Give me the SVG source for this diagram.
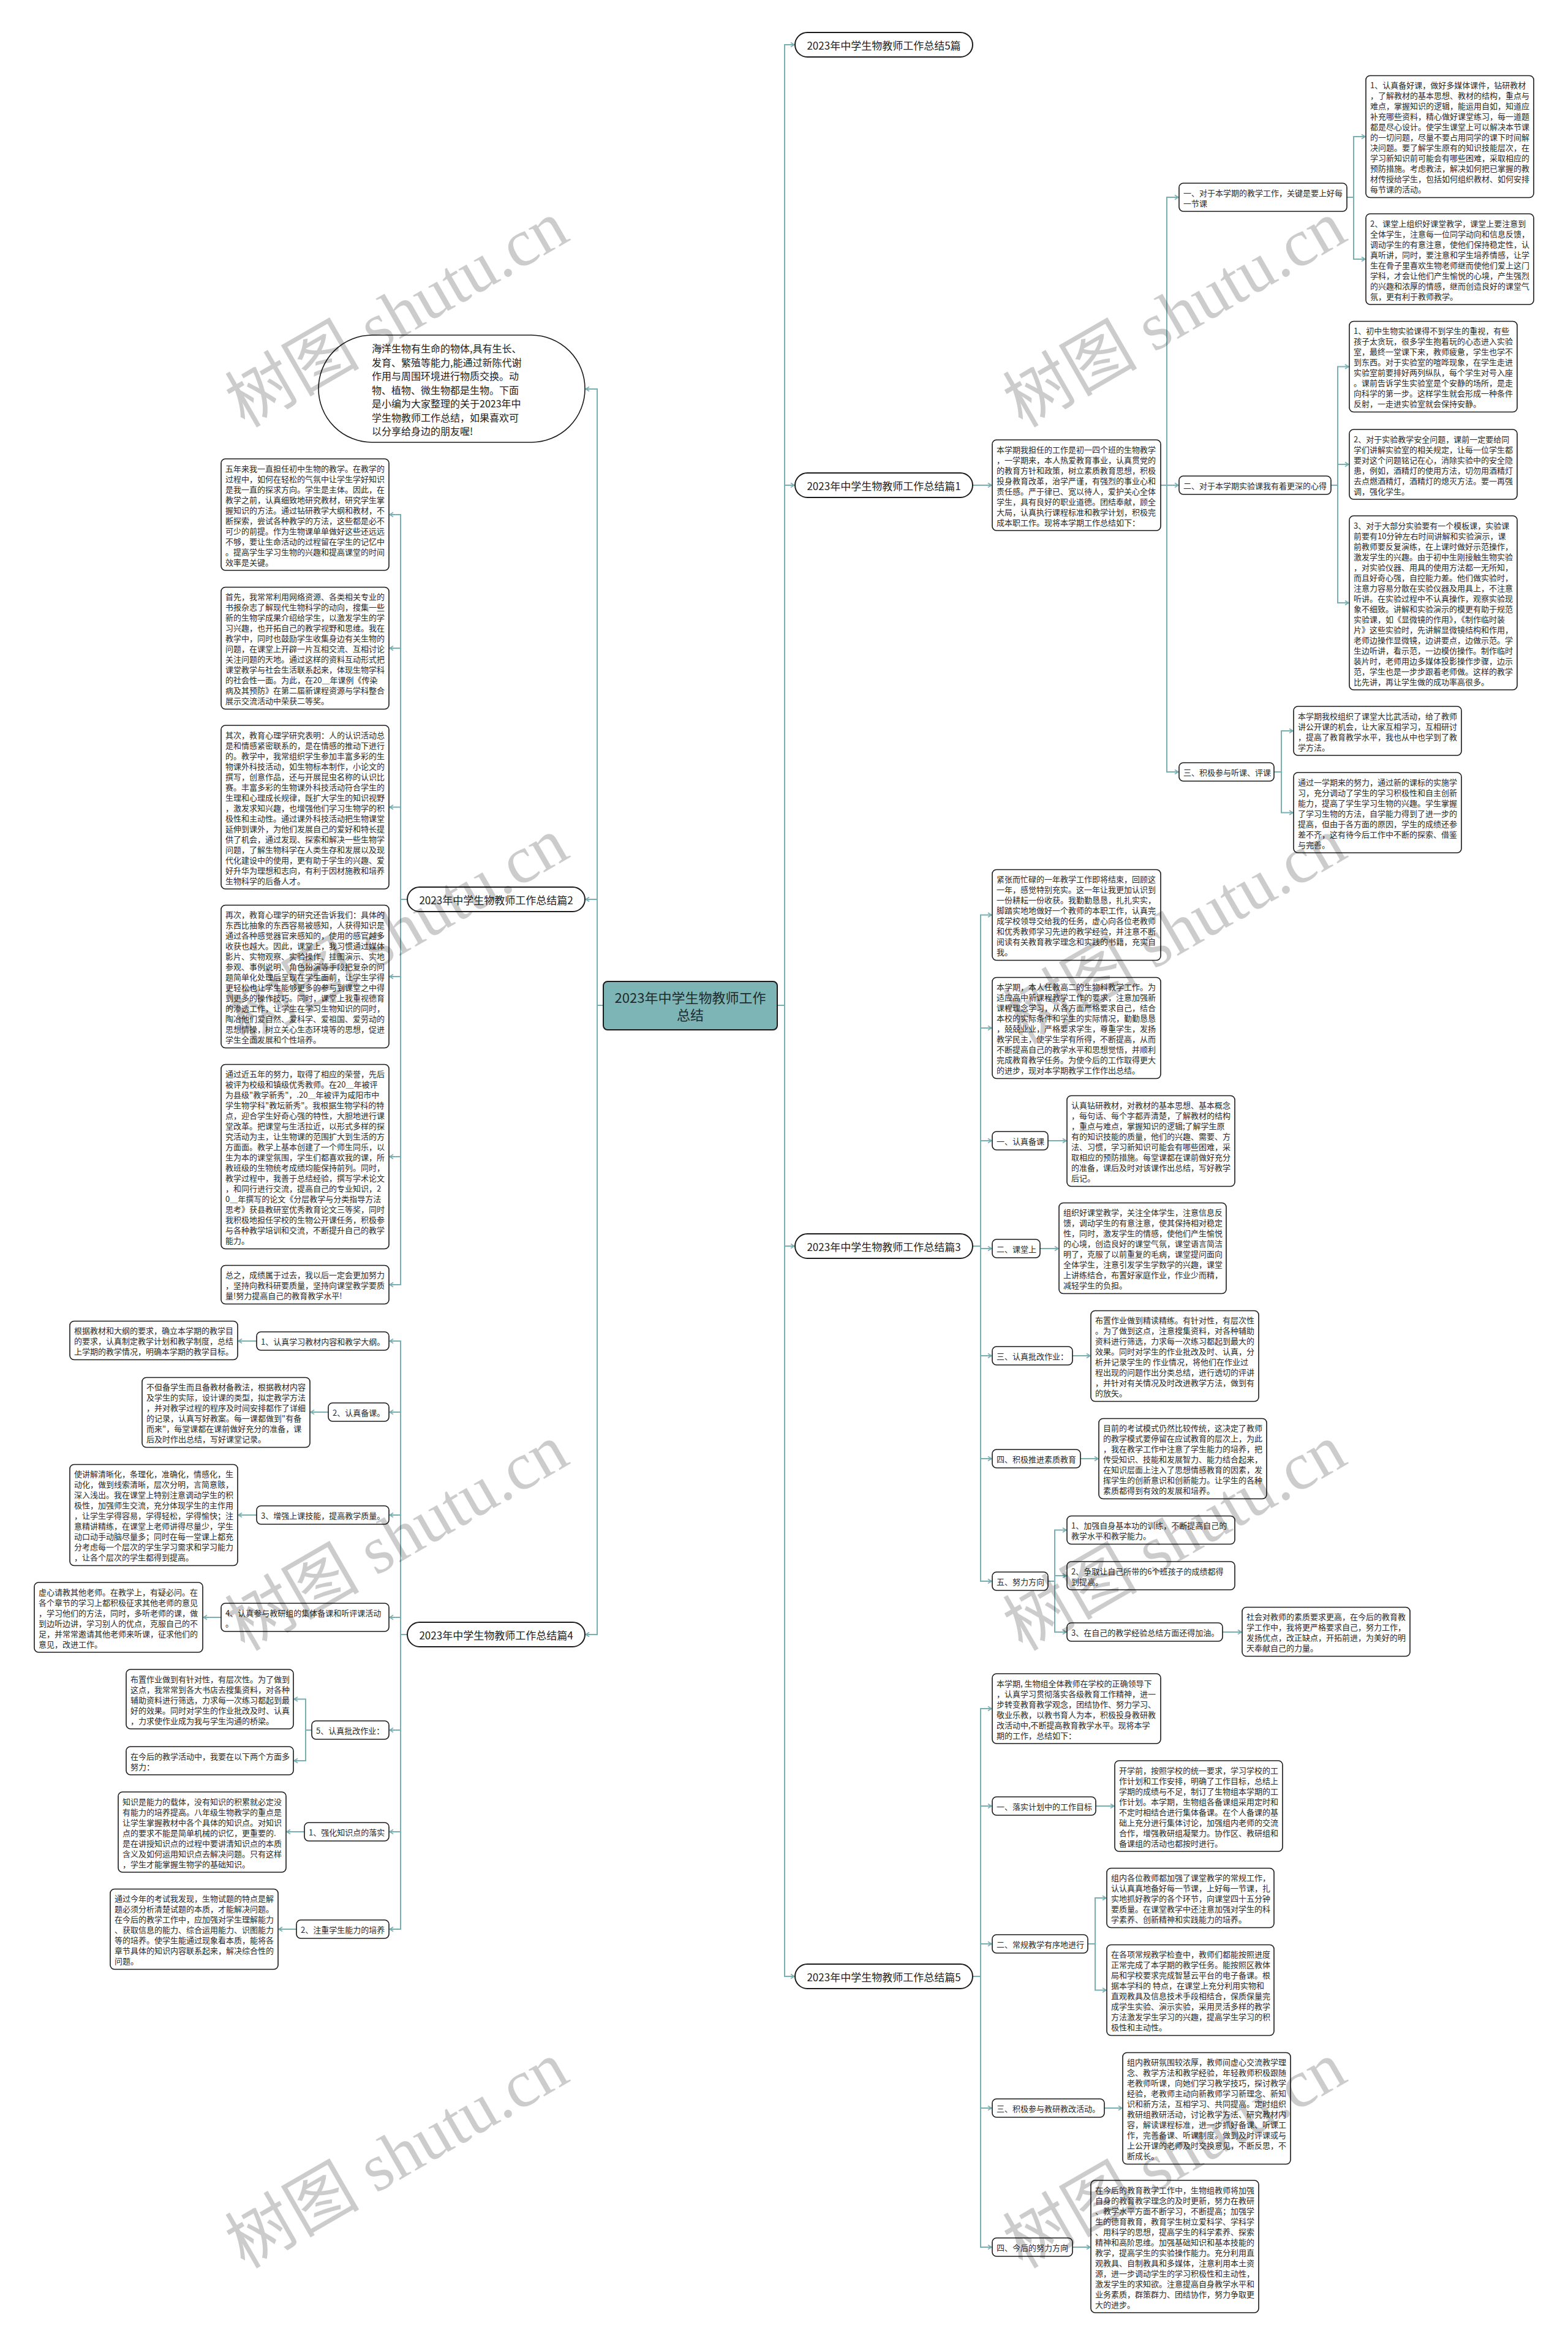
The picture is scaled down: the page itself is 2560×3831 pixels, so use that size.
<svg xmlns="http://www.w3.org/2000/svg" width="2560" height="3831" viewBox="0 0 2560 3831">
<style>
.bx{fill:#fff;stroke:#1a1a1a;stroke-width:1.6}
.pill{fill:#fff;stroke:#1a1a1a;stroke-width:2}
.ctr{fill:#7db4b5;stroke:#1a1a1a;stroke-width:2}
.t{font-family:"Noto Sans CJK SC","Noto Sans",sans-serif;font-size:13px;fill:#2a2a2a;dominant-baseline:central}
.tb{font-family:"Noto Sans CJK SC","Noto Sans",sans-serif;font-size:17px;fill:#222;dominant-baseline:central;text-anchor:middle}
.tc{font-family:"Noto Sans CJK SC","Noto Sans",sans-serif;font-size:22px;fill:#1f2b2b;dominant-baseline:central;text-anchor:middle}
.ti{font-family:"Noto Sans CJK SC","Noto Sans",sans-serif;font-size:16px;fill:#222;dominant-baseline:central}
.ln{fill:none;stroke:#78afb1;stroke-width:2}
.wm{font-family:"Liberation Serif","Noto Sans CJK SC",serif;font-size:110px;fill:#000;fill-opacity:0.2;text-anchor:middle;dominant-baseline:central}
</style>
<defs>
<marker id="ar" markerUnits="userSpaceOnUse" markerWidth="10" markerHeight="10" refX="8" refY="5" orient="auto">
<path d="M2,1.5 L8,5 L2,8.5" fill="none" stroke="#78afb1" stroke-width="1.6"/>
</marker>
</defs>
<rect width="2560" height="3831" fill="#fff"/>

<g id="connectors" class="ln" marker-end="url(#ar)">
<path d="M1269,1641 H1281 V73 H1297"/>
<path d="M1269,1641 H1281 V792 H1297"/>
<path d="M1269,1641 H1281 V2034 H1297"/>
<path d="M1269,1641 H1281 V3226 H1297"/>
<path d="M985,1641 H975 V635 H956"/>
<path d="M985,1641 H975 V1468 H956"/>
<path d="M985,1641 H975 V2668 H956"/>
<path d="M1588,792 H1619"/>
<path d="M1895,792 H1905 V322 H1924"/>
<path d="M1895,792 H1924"/>
<path d="M1895,792 H1905 V1260 H1924"/>
<path d="M2199,322 H2210 V223 H2229"/>
<path d="M2199,322 H2210 V423 H2229"/>
<path d="M2173,792 H2184 V598.5 H2202"/>
<path d="M2173,792 H2184 V758 H2202"/>
<path d="M2173,792 H2184 V984 H2202"/>
<path d="M2080,1260 H2092 V1193 H2111"/>
<path d="M2080,1260 H2092 V1326.5 H2111"/>
<path d="M1588,2034 H1601 V1493.5 H1619"/>
<path d="M1588,2034 H1601 V1678 H1619"/>
<path d="M1588,2034 H1601 V1862 H1619"/>
<path d="M1588,2034 H1601 V2038 H1619"/>
<path d="M1588,2034 H1601 V2213 H1619"/>
<path d="M1588,2034 H1601 V2381 H1619"/>
<path d="M1588,2034 H1601 V2581 H1619"/>
<path d="M1711,1862 H1741"/>
<path d="M1698,2038 H1728"/>
<path d="M1751,2213 H1780"/>
<path d="M1764,2381 H1793"/>
<path d="M1711,2581 H1722 V2497.5 H1741"/>
<path d="M1711,2581 H1722 V2572 H1741"/>
<path d="M1711,2581 H1722 V2664 H1741"/>
<path d="M1996,2664 H2027"/>
<path d="M1588,3226 H1601 V2789 H1619"/>
<path d="M1588,3226 H1601 V2948 H1619"/>
<path d="M1588,3226 H1601 V3173 H1619"/>
<path d="M1588,3226 H1601 V3441 H1619"/>
<path d="M1588,3226 H1601 V3668 H1619"/>
<path d="M1789,2948 H1819"/>
<path d="M1776,3173 H1788 V3098 H1806"/>
<path d="M1776,3173 H1788 V3248.5 H1806"/>
<path d="M1803,3441 H1832"/>
<path d="M1751,3668 H1780"/>
<path d="M665,1468 H654 V840 H636"/>
<path d="M665,1468 H654 V1058 H636"/>
<path d="M665,1468 H654 V1317.5 H636"/>
<path d="M665,1468 H654 V1594 H636"/>
<path d="M665,1468 H654 V1888 H636"/>
<path d="M665,1468 H654 V2097 H636"/>
<path d="M665,2668 H654 V2189 H636"/>
<path d="M665,2668 H654 V2305 H636"/>
<path d="M665,2668 H654 V2473 H636"/>
<path d="M665,2668 H654 V2640 H636"/>
<path d="M665,2668 H654 V2824 H636"/>
<path d="M665,2668 H654 V2990 H636"/>
<path d="M665,2668 H654 V3149 H636"/>
<path d="M419,2189 H389"/>
<path d="M536,2305 H507"/>
<path d="M419,2473 H389"/>
<path d="M361,2640 H332"/>
<path d="M509,2824 H499 V2773.5 H480"/>
<path d="M509,2824 H499 V2874 H480"/>
<path d="M497,2990 H468"/>
<path d="M484,3149 H455"/>
</g>

<g id="n-center">
<rect class="ctr" x="985" y="1602" width="284" height="79" rx="7"/>
<text class="tc"><tspan x="1127" y="1627">2023年中学生物教师工作</tspan><tspan x="1127" y="1655">总结</tspan></text>
</g>

<g id="n-intro">
<rect class="bx" x="520" y="547" width="435" height="175" rx="87.5"/>
<text class="ti"><tspan x="607" y="568">海洋生物有生命的物体,具有生长、</tspan><tspan x="607" dy="22.5">发育、繁殖等能力,能通过新陈代谢</tspan><tspan x="607" dy="22.5">作用与周围环境进行物质交换。动</tspan><tspan x="607" dy="22.5">物、植物、微生物都是生物。下面</tspan><tspan x="607" dy="22.5">是小编为大家整理的关于2023年中</tspan><tspan x="607" dy="22.5">学生物教师工作总结，如果喜欢可</tspan><tspan x="607" dy="22.5">以分享给身边的朋友喔!</tspan></text>
</g>

<g id="n-b5">
<rect class="pill" x="1298" y="53" width="290" height="40" rx="20"/>
<text class="tb" x="1443" y="73">2023年中学生物教师工作总结5篇</text>
</g>
<g id="n-b1">
<rect class="pill" x="1298" y="772" width="290" height="40" rx="20"/>
<text class="tb" x="1443" y="792">2023年中学生物教师工作总结篇1</text>
</g>
<g id="n-b3">
<rect class="pill" x="1298" y="2014" width="290" height="40" rx="20"/>
<text class="tb" x="1443" y="2034">2023年中学生物教师工作总结篇3</text>
</g>
<g id="n-b5b">
<rect class="pill" x="1298" y="3206" width="290" height="40" rx="20"/>
<text class="tb" x="1443" y="3226">2023年中学生物教师工作总结篇5</text>
</g>
<g id="n-b2">
<rect class="pill" x="665" y="1448" width="290" height="40" rx="20"/>
<text class="tb" x="810" y="1468">2023年中学生物教师工作总结篇2</text>
</g>
<g id="n-b4">
<rect class="pill" x="665" y="2648" width="290" height="40" rx="20"/>
<text class="tb" x="810" y="2668">2023年中学生物教师工作总结篇4</text>
</g>

<!-- Part 1 -->
<g id="p1-sum">
<rect class="bx" x="1620" y="718" width="275" height="148" rx="7"/>
<text class="t"><tspan x="1627" y="732.5">本学期我担任的工作是初一四个班的生物教学</tspan><tspan x="1627" dy="17">，一学期来，本人热爱教育事业，认真贯党的</tspan><tspan x="1627" dy="17">的教育方针和政策，树立素质教育思想，积极</tspan><tspan x="1627" dy="17">投身教育改革，治学严谨，有强烈的事业心和</tspan><tspan x="1627" dy="17">责任感。严于律已、宽以待人，爱护关心全体</tspan><tspan x="1627" dy="17">学生，具有良好的职业道德。团结奉献，顾全</tspan><tspan x="1627" dy="17">大局，认真执行课程标准和教学计划，积极完</tspan><tspan x="1627" dy="17">成本职工作。现将本学期工作总结如下：</tspan></text>
</g>
<g id="p1-s1">
<rect class="bx" x="1925" y="299" width="274" height="46" rx="7"/>
<text class="t"><tspan x="1932" y="313.5">一、对于本学期的教学工作，关键是要上好每</tspan><tspan x="1932" dy="17">一节课</tspan></text>
</g>
<g id="p1-s1a">
<rect class="bx" x="2230" y="123.5" width="274" height="199" rx="7"/>
<text class="t"><tspan x="2237" y="138">1、认真备好课，做好多媒体课件，钻研教材</tspan><tspan x="2237" dy="17">，了解教材的基本思想、教材的结构，重点与</tspan><tspan x="2237" dy="17">难点，掌握知识的逻辑，能运用自如，知道应</tspan><tspan x="2237" dy="17">补充哪些资料，精心做好课堂练习，每一道题</tspan><tspan x="2237" dy="17">都是尽心设计。使学生课堂上可以解决本节课</tspan><tspan x="2237" dy="17">的一切问题，尽量不要占用同学的课下时间解</tspan><tspan x="2237" dy="17">决问题。要了解学生原有的知识技能层次，在</tspan><tspan x="2237" dy="17">学习新知识前可能会有哪些困难，采取相应的</tspan><tspan x="2237" dy="17">预防措施。考虑教法，解决如何把已掌握的教</tspan><tspan x="2237" dy="17">材传授给学生，包括如何组织教材、如何安排</tspan><tspan x="2237" dy="17">每节课的活动。</tspan></text>
</g>
<g id="p1-s1b">
<rect class="bx" x="2230" y="349" width="274" height="148" rx="7"/>
<text class="t"><tspan x="2237" y="363.5">2、课堂上组织好课堂教学，课堂上要注意到</tspan><tspan x="2237" dy="17">全体学生，注意每一位同学动向和信息反馈，</tspan><tspan x="2237" dy="17">调动学生的有意注意，使他们保持稳定性，认</tspan><tspan x="2237" dy="17">真听讲，同时，要注意和学生培养情感，让学</tspan><tspan x="2237" dy="17">生在骨子里喜欢生物老师继而使他们爱上这门</tspan><tspan x="2237" dy="17">学科，才会让他们产生愉悦的心境，产生强烈</tspan><tspan x="2237" dy="17">的兴趣和浓厚的情感，继而创造良好的课堂气</tspan><tspan x="2237" dy="17">氛，更有利于教师教学。</tspan></text>
</g>
<g id="p1-s2">
<rect class="bx" x="1925" y="777" width="248" height="30" rx="7"/>
<text class="t" x="1932" y="792">二、对于本学期实验课我有着更深的心得</text>
</g>
<g id="p1-s2a">
<rect class="bx" x="2203" y="524.5" width="274" height="148" rx="7"/>
<text class="t"><tspan x="2210" y="539">1、初中生物实验课得不到学生的重视，有些</tspan><tspan x="2210" dy="17">孩子太贪玩，很多学生抱着玩的心态进入实验</tspan><tspan x="2210" dy="17">室，最终一堂课下来，教师疲惫，学生也学不</tspan><tspan x="2210" dy="17">到东西。对于实验室的喧哗现象，在学生走进</tspan><tspan x="2210" dy="17">实验室前要排好两列纵队，每个学生对号入座</tspan><tspan x="2210" dy="17">。课前告诉学生实验室是个安静的场所，是走</tspan><tspan x="2210" dy="17">向科学的第一步。这样学生就会形成一种条件</tspan><tspan x="2210" dy="17">反射，一走进实验室就会保持安静。</tspan></text>
</g>
<g id="p1-s2b">
<rect class="bx" x="2203" y="701" width="274" height="114" rx="7"/>
<text class="t"><tspan x="2210" y="715.5">2、对于实验教学安全问题，课前一定要给同</tspan><tspan x="2210" dy="17">学们讲解实验室的相关规定，让每一位学生都</tspan><tspan x="2210" dy="17">要对这个问题铭记在心，消除实验中的安全隐</tspan><tspan x="2210" dy="17">患，例如，酒精灯的使用方法，切勿用酒精灯</tspan><tspan x="2210" dy="17">去点燃酒精灯，酒精灯的熄灭方法。要一再强</tspan><tspan x="2210" dy="17">调，强化学生。</tspan></text>
</g>
<g id="p1-s2c">
<rect class="bx" x="2203" y="842" width="274" height="284" rx="7"/>
<text class="t"><tspan x="2210" y="856.5">3、对于大部分实验要有一个模板课，实验课</tspan><tspan x="2210" dy="17">前要有10分钟左右时间讲解和实验演示，课</tspan><tspan x="2210" dy="17">前教师要反复演练，在上课时做好示范操作，</tspan><tspan x="2210" dy="17">激发学生的兴趣。由于初中生刚接触生物实验</tspan><tspan x="2210" dy="17">，对实验仪器、用具的使用方法都一无所知，</tspan><tspan x="2210" dy="17">而且好奇心强，自控能力差。他们做实验时，</tspan><tspan x="2210" dy="17">注意力容易分散在实验仪器及用具上，不注意</tspan><tspan x="2210" dy="17">听讲。在实验过程中不认真操作，观察实验现</tspan><tspan x="2210" dy="17">象不细致。讲解和实验演示的模更有助于规范</tspan><tspan x="2210" dy="17">实验课，如《显微镜的作用》，《制作临时装</tspan><tspan x="2210" dy="17">片》这些实验时，先讲解显微镜结构和作用，</tspan><tspan x="2210" dy="17">老师边操作显微镜，边讲要点，边做示范。学</tspan><tspan x="2210" dy="17">生边听讲，看示范，一边模仿操作。制作临时</tspan><tspan x="2210" dy="17">装片时，老师用边多媒体投影操作步骤，边示</tspan><tspan x="2210" dy="17">范，学生也是一步步跟着老师做。这样的教学</tspan><tspan x="2210" dy="17">比先讲，再让学生做的成功率高很多。</tspan></text>
</g>
<g id="p1-s3">
<rect class="bx" x="1925" y="1245" width="155" height="30" rx="7"/>
<text class="t" x="1932" y="1260">三、积极参与听课、评课</text>
</g>
<g id="p1-s3a">
<rect class="bx" x="2112" y="1153" width="274" height="80" rx="7"/>
<text class="t"><tspan x="2119" y="1167.5">本学期我校组织了课堂大比武活动，给了教师</tspan><tspan x="2119" dy="17">讲公开课的机会，让大家互相学习，互相研讨</tspan><tspan x="2119" dy="17">，提高了教育教学水平，我也从中也学到了教</tspan><tspan x="2119" dy="17">学方法。</tspan></text>
</g>
<g id="p1-s3b">
<rect class="bx" x="2112" y="1261" width="274" height="131" rx="7"/>
<text class="t"><tspan x="2119" y="1275.5">通过一学期来的努力，通过新的课标的实施学</tspan><tspan x="2119" dy="17">习，充分调动了学生的学习积极性和自主创新</tspan><tspan x="2119" dy="17">能力，提高了学生学习生物的兴趣。学生掌握</tspan><tspan x="2119" dy="17">了学习生物的方法，自学能力得到了进一步的</tspan><tspan x="2119" dy="17">提高，但由于各方面的原因，学生的成绩还参</tspan><tspan x="2119" dy="17">差不齐，这有待今后工作中不断的探索、借鉴</tspan><tspan x="2119" dy="17">与完善。</tspan></text>
</g>

<!-- Part 3 -->
<g id="p3-a">
<rect class="bx" x="1620" y="1419.5" width="275" height="148" rx="7"/>
<text class="t"><tspan x="1627" y="1434">紧张而忙碌的一年教学工作即将结束，回顾这</tspan><tspan x="1627" dy="17">一年，感觉特别充实。这一年让我更加认识到</tspan><tspan x="1627" dy="17">一份耕耘一份收获。我勤勤恳恳，扎扎实实，</tspan><tspan x="1627" dy="17">脚踏实地地做好一个教师的本职工作，认真完</tspan><tspan x="1627" dy="17">成学校领导交给我的任务，虚心向各位老教师</tspan><tspan x="1627" dy="17">和优秀教师学习先进的教学经验，并注意不断</tspan><tspan x="1627" dy="17">阅读有关教育教学理念和实践的书籍，充实自</tspan><tspan x="1627" dy="17">我。</tspan></text>
</g>
<g id="p3-b">
<rect class="bx" x="1620" y="1595.5" width="275" height="165" rx="7"/>
<text class="t"><tspan x="1627" y="1610">本学期，本人任教高二的生物科教学工作。为</tspan><tspan x="1627" dy="17">适应高中新课程教学工作的要求，注意加强新</tspan><tspan x="1627" dy="17">课程理念学习，从各方面严格要求自己，结合</tspan><tspan x="1627" dy="17">本校的实际条件和学生的实际情况，勤勤恳恳</tspan><tspan x="1627" dy="17">，兢兢业业，严格要求学生，尊重学生，发扬</tspan><tspan x="1627" dy="17">教学民主，使学生学有所得，不断提高，从而</tspan><tspan x="1627" dy="17">不断提高自己的教学水平和思想觉悟，并顺利</tspan><tspan x="1627" dy="17">完成教育教学任务。为使今后的工作取得更大</tspan><tspan x="1627" dy="17">的进步，现对本学期教学工作作出总结。</tspan></text>
</g>
<g id="p3-1">
<rect class="bx" x="1620" y="1847" width="91" height="30" rx="7"/>
<text class="t" x="1627" y="1862">一、认真备课</text>
</g>
<g id="p3-1a">
<rect class="bx" x="1742" y="1788.5" width="274" height="148" rx="7"/>
<text class="t"><tspan x="1749" y="1803">认真钻研教材，对教材的基本思想、基本概念</tspan><tspan x="1749" dy="17">，每句话、每个字都弄清楚，了解教材的结构</tspan><tspan x="1749" dy="17">，重点与难点，掌握知识的逻辑;了解学生原</tspan><tspan x="1749" dy="17">有的知识技能的质量，他们的兴趣、需要、方</tspan><tspan x="1749" dy="17">法、习惯，学习新知识可能会有哪些困难，采</tspan><tspan x="1749" dy="17">取相应的预防措施。每堂课都在课前做好充分</tspan><tspan x="1749" dy="17">的准备，课后及时对该课作出总结，写好教学</tspan><tspan x="1749" dy="17">后记。</tspan></text>
</g>
<g id="p3-2">
<rect class="bx" x="1620" y="2023" width="78" height="30" rx="7"/>
<text class="t" x="1627" y="2038">二、课堂上</text>
</g>
<g id="p3-2a">
<rect class="bx" x="1729" y="1963.5" width="273" height="148" rx="7"/>
<text class="t"><tspan x="1736" y="1978">组织好课堂教学，关注全体学生，注意信息反</tspan><tspan x="1736" dy="17">馈，调动学生的有意注意，使其保持相对稳定</tspan><tspan x="1736" dy="17">性，同时，激发学生的情感，使他们产生愉悦</tspan><tspan x="1736" dy="17">的心境，创造良好的课堂气氛，课堂语言简洁</tspan><tspan x="1736" dy="17">明了，克服了以前重复的毛病，课堂提问面向</tspan><tspan x="1736" dy="17">全体学生，注意引发学生学数学的兴趣，课堂</tspan><tspan x="1736" dy="17">上讲练结合，布置好家庭作业，作业少而精，</tspan><tspan x="1736" dy="17">减轻学生的负担。</tspan></text>
</g>
<g id="p3-3">
<rect class="bx" x="1620" y="2198" width="131" height="30" rx="7"/>
<text class="t" x="1627" y="2213">三、认真批改作业：</text>
</g>
<g id="p3-3a">
<rect class="bx" x="1781" y="2139.5" width="274" height="148" rx="7"/>
<text class="t"><tspan x="1788" y="2154">布置作业做到精读精练。有针对性，有层次性</tspan><tspan x="1788" dy="17">。为了做到这点，注意搜集资料，对各种辅助</tspan><tspan x="1788" dy="17">资料进行筛选，力求每一次练习都起到最大的</tspan><tspan x="1788" dy="17">效果。同时对学生的作业批改及时、认真，分</tspan><tspan x="1788" dy="17">析并记录学生的 作业情况，将他们在作业过</tspan><tspan x="1788" dy="17">程出现的问题作出分类总结，进行透切的评讲</tspan><tspan x="1788" dy="17">，并针对有关情况及时改进教学方法，做到有</tspan><tspan x="1788" dy="17">的放矢。</tspan></text>
</g>
<g id="p3-4">
<rect class="bx" x="1620" y="2366" width="144" height="30" rx="7"/>
<text class="t" x="1627" y="2381">四、积极推进素质教育</text>
</g>
<g id="p3-4a">
<rect class="bx" x="1794" y="2315.5" width="274" height="131" rx="7"/>
<text class="t"><tspan x="1801" y="2330">目前的考试模式仍然比较传统，这决定了教师</tspan><tspan x="1801" dy="17">的教学模式要停留在应试教育的层次上，为此</tspan><tspan x="1801" dy="17">，我在教学工作中注意了学生能力的培养，把</tspan><tspan x="1801" dy="17">传受知识、技能和发展智力、能力结合起来，</tspan><tspan x="1801" dy="17">在知识层面上注入了思想情感教育的因素，发</tspan><tspan x="1801" dy="17">挥学生的创新意识和创新能力。让学生的各种</tspan><tspan x="1801" dy="17">素质都得到有效的发展和培养。</tspan></text>
</g>
<g id="p3-5">
<rect class="bx" x="1620" y="2566" width="91" height="30" rx="7"/>
<text class="t" x="1627" y="2581">五、努力方向</text>
</g>
<g id="p3-5a">
<rect class="bx" x="1742" y="2474.5" width="274" height="46" rx="7"/>
<text class="t"><tspan x="1749" y="2489">1、加强自身基本功的训练，不断提高自己的</tspan><tspan x="1749" dy="17">教学水平和教学能力。</tspan></text>
</g>
<g id="p3-5b">
<rect class="bx" x="1742" y="2549" width="274" height="46" rx="7"/>
<text class="t"><tspan x="1749" y="2563.5">2、争取让自己所带的6个班孩子的成绩都得</tspan><tspan x="1749" dy="17">到提高。</tspan></text>
</g>
<g id="p3-5c">
<rect class="bx" x="1742" y="2649" width="254" height="30" rx="7"/>
<text class="t" x="1749" y="2664">3、在自己的教学经验总结方面还得加油。</text>
</g>
<g id="p3-5c1">
<rect class="bx" x="2028" y="2623.5" width="274" height="80" rx="7"/>
<text class="t"><tspan x="2035" y="2638">社会对教师的素质要求更高，在今后的教育教</tspan><tspan x="2035" dy="17">学工作中，我将更严格要求自己，努力工作，</tspan><tspan x="2035" dy="17">发扬优点，改正缺点，开拓前进，为美好的明</tspan><tspan x="2035" dy="17">天奉献自己的力量。</tspan></text>
</g>

<!-- Part 5 -->
<g id="p5-a">
<rect class="bx" x="1620" y="2732" width="275" height="114" rx="7"/>
<text class="t"><tspan x="1627" y="2746.5">本学期, 生物组全体教师在学校的正确领导下</tspan><tspan x="1627" dy="17">，认真学习贯彻落实各级教育工作精神，进一</tspan><tspan x="1627" dy="17">步转变教育教学观念，团结协作、努力学习、</tspan><tspan x="1627" dy="17">敬业乐教，以教书育人为本，积极投身教研教</tspan><tspan x="1627" dy="17">改活动中,不断提高教育教学水平。现将本学</tspan><tspan x="1627" dy="17">期的工作，总结如下：</tspan></text>
</g>
<g id="p5-1">
<rect class="bx" x="1620" y="2933" width="169" height="30" rx="7"/>
<text class="t" x="1627" y="2948">一、落实计划中的工作目标</text>
</g>
<g id="p5-1a">
<rect class="bx" x="1820" y="2874" width="274" height="148" rx="7"/>
<text class="t"><tspan x="1827" y="2888.5">开学前，按照学校的统一要求，学习学校的工</tspan><tspan x="1827" dy="17">作计划和工作安排，明确了工作目标，总结上</tspan><tspan x="1827" dy="17">学期的成绩与不足，制订了生物组本学期的工</tspan><tspan x="1827" dy="17">作计划。本学期，生物组各备课组采用定时和</tspan><tspan x="1827" dy="17">不定时相结合进行集体备课。在个人备课的基</tspan><tspan x="1827" dy="17">础上充分进行集体讨论，加强组内老师的交流</tspan><tspan x="1827" dy="17">合作，增强教研组凝聚力。协作区、教研组和</tspan><tspan x="1827" dy="17">备课组的活动也都按时进行。</tspan></text>
</g>
<g id="p5-2">
<rect class="bx" x="1620" y="3158" width="156" height="30" rx="7"/>
<text class="t" x="1627" y="3173">二、常规教学有序地进行</text>
</g>
<g id="p5-2a">
<rect class="bx" x="1807" y="3049.5" width="273" height="97" rx="7"/>
<text class="t"><tspan x="1814" y="3064">组内各位教师都加强了课堂教学的常规工作，</tspan><tspan x="1814" dy="17">认认真真地备好每一节课，上好每一节课，扎</tspan><tspan x="1814" dy="17">实地抓好教学的各个环节，向课堂四十五分钟</tspan><tspan x="1814" dy="17">要质量。在课堂教学中还注意加强对学生的科</tspan><tspan x="1814" dy="17">学素养、创新精神和实践能力的培养。</tspan></text>
</g>
<g id="p5-2b">
<rect class="bx" x="1807" y="3174.5" width="273" height="148" rx="7"/>
<text class="t"><tspan x="1814" y="3189">在各项常规教学检查中，教师们都能按照进度</tspan><tspan x="1814" dy="17">正常完成了本学期的教学任务。能按照区教体</tspan><tspan x="1814" dy="17">局和学校要求完成智慧云平台的电子备课。根</tspan><tspan x="1814" dy="17">据本学科的 特点，在课堂上充分利用实物和</tspan><tspan x="1814" dy="17">直观教具及信息技术手段相结合，保质保量完</tspan><tspan x="1814" dy="17">成学生实验、演示实验，采用灵活多样的教学</tspan><tspan x="1814" dy="17">方法激发学生学习的兴趣，提高学生学习的积</tspan><tspan x="1814" dy="17">极性和主动性。</tspan></text>
</g>
<g id="p5-3">
<rect class="bx" x="1620" y="3426" width="183" height="30" rx="7"/>
<text class="t" x="1627" y="3441">三、积极参与教研教改活动。</text>
</g>
<g id="p5-3a">
<rect class="bx" x="1833" y="3350.5" width="274" height="182" rx="7"/>
<text class="t"><tspan x="1840" y="3365">组内教研氛围较浓厚，教师间虚心交流教学理</tspan><tspan x="1840" dy="17">念、教学方法和教学经验，年轻教师积极跟随</tspan><tspan x="1840" dy="17">老教师听课，向她们学习教学技巧，探讨教学</tspan><tspan x="1840" dy="17">经验，老教师主动向新教师学习新理念、新知</tspan><tspan x="1840" dy="17">识和新方法，互相学习、共同提高。定时组织</tspan><tspan x="1840" dy="17">教研组教研活动，讨论教学方法、研究教材内</tspan><tspan x="1840" dy="17">容，解读课程标准，进一步抓好备课、听课工</tspan><tspan x="1840" dy="17">作，完善备课、听课制度。做到及时评课或与</tspan><tspan x="1840" dy="17">上公开课的老师及时交换意见，不断反思，不</tspan><tspan x="1840" dy="17">断成长。</tspan></text>
</g>
<g id="p5-4">
<rect class="bx" x="1620" y="3653" width="131" height="30" rx="7"/>
<text class="t" x="1627" y="3668">四、今后的努力方向</text>
</g>
<g id="p5-4a">
<rect class="bx" x="1781" y="3559" width="274" height="216" rx="7"/>
<text class="t"><tspan x="1788" y="3573.5">在今后的教育教学工作中，生物组教师将加强</tspan><tspan x="1788" dy="17">自身的教育教学理念的及时更新，努力在教研</tspan><tspan x="1788" dy="17">、教学水平方面不断学习，不断提高；加强学</tspan><tspan x="1788" dy="17">生的德育教育，教育学生树立爱科学、学科学</tspan><tspan x="1788" dy="17">、用科学的思想，提高学生的科学素养、探索</tspan><tspan x="1788" dy="17">精神和高阶思维。加强基础知识和基本技能的</tspan><tspan x="1788" dy="17">教学，提高学生的实验操作能力。充分利用直</tspan><tspan x="1788" dy="17">观教具、自制教具和多媒体，注意利用本土资</tspan><tspan x="1788" dy="17">源，进一步调动学生的学习积极性和主动性，</tspan><tspan x="1788" dy="17">激发学生的求知欲。注意提高自身教学水平和</tspan><tspan x="1788" dy="17">业务素质，群策群力、团结协作，努力争取更</tspan><tspan x="1788" dy="17">大的进步。</tspan></text>
</g>

<!-- Part 2 -->
<g id="p2-1">
<rect class="bx" x="361" y="749" width="274" height="182" rx="7"/>
<text class="t"><tspan x="368" y="763.5">五年来我一直担任初中生物的教学。在教学的</tspan><tspan x="368" dy="17">过程中，如何在轻松的气氛中让学生学好知识</tspan><tspan x="368" dy="17">是我一直的探求方向。学生是主体。因此，在</tspan><tspan x="368" dy="17">教学之前，认真细致地研究教材，研究学生掌</tspan><tspan x="368" dy="17">握知识的方法。通过钻研教学大纲和教材，不</tspan><tspan x="368" dy="17">断探索，尝试各种教学的方法，这些都是必不</tspan><tspan x="368" dy="17">可少的前提。作为生物课单单做好这些还远远</tspan><tspan x="368" dy="17">不够，要让生命活动的过程留在学生的记忆中</tspan><tspan x="368" dy="17">。提高学生学习生物的兴趣和提高课堂的时间</tspan><tspan x="368" dy="17">效率是关键。</tspan></text>
</g>
<g id="p2-2">
<rect class="bx" x="361" y="958.5" width="274" height="199" rx="7"/>
<text class="t"><tspan x="368" y="973">首先，我常常利用网络资源、各类相关专业的</tspan><tspan x="368" dy="17">书报杂志了解现代生物科学的动向，搜集一些</tspan><tspan x="368" dy="17">新的生物学成果介绍给学生，以激发学生的学</tspan><tspan x="368" dy="17">习兴趣，也开拓自己的教学视野和思维。我在</tspan><tspan x="368" dy="17">教学中，同时也鼓励学生收集身边有关生物的</tspan><tspan x="368" dy="17">问题，在课堂上开辟一片互相交流、互相讨论</tspan><tspan x="368" dy="17">关注问题的天地。通过这样的资料互动形式把</tspan><tspan x="368" dy="17">课堂教学与社会生活联系起来，体现生物学科</tspan><tspan x="368" dy="17">的社会性一面。为此，在20＿年课例《传染</tspan><tspan x="368" dy="17">病及其预防》在第二届新课程资源与学科整合</tspan><tspan x="368" dy="17">展示交流活动中荣获二等奖。</tspan></text>
</g>
<g id="p2-3">
<rect class="bx" x="361" y="1184" width="274" height="267" rx="7"/>
<text class="t"><tspan x="368" y="1198.5">其次，教育心理学研究表明：人的认识活动总</tspan><tspan x="368" dy="17">是和情感紧密联系的，是在情感的推动下进行</tspan><tspan x="368" dy="17">的。教学中，我常组织学生参加丰富多彩的生</tspan><tspan x="368" dy="17">物课外科技活动，如生物标本制作，小论文的</tspan><tspan x="368" dy="17">撰写，创意作品，还与开展昆虫名称的认识比</tspan><tspan x="368" dy="17">赛。丰富多彩的生物课外科技活动符合学生的</tspan><tspan x="368" dy="17">生理和心理成长规律，既扩大学生的知识视野</tspan><tspan x="368" dy="17">，激发求知兴趣，也增强他们学习生物学的积</tspan><tspan x="368" dy="17">极性和主动性。通过课外科技活动把生物课堂</tspan><tspan x="368" dy="17">延伸到课外，为他们发展自己的爱好和特长提</tspan><tspan x="368" dy="17">供了机会，通过发现、探索和解决一些生物学</tspan><tspan x="368" dy="17">问题，了解生物科学在人类生存和发展以及现</tspan><tspan x="368" dy="17">代化建设中的使用，更有助于学生的兴趣、爱</tspan><tspan x="368" dy="17">好升华为理想和志向，有利于因材施教和培养</tspan><tspan x="368" dy="17">生物科学的后备人才。</tspan></text>
</g>
<g id="p2-4">
<rect class="bx" x="361" y="1477.5" width="274" height="233" rx="7"/>
<text class="t"><tspan x="368" y="1492">再次，教育心理学的研究还告诉我们：具体的</tspan><tspan x="368" dy="17">东西比抽象的东西容易被感知，人获得知识是</tspan><tspan x="368" dy="17">通过各种感觉器官来感知的，使用的感官越多</tspan><tspan x="368" dy="17">收获也越大。因此，课堂上，我习惯通过媒体</tspan><tspan x="368" dy="17">影片、实物观察、实验操作、挂图演示、实地</tspan><tspan x="368" dy="17">参观、事例说明、角色扮演等手段把复杂的问</tspan><tspan x="368" dy="17">题简单化处理后呈现在学生面前，让学生学得</tspan><tspan x="368" dy="17">更轻松也让学生能够更多的参与到课堂之中得</tspan><tspan x="368" dy="17">到更多的操作技巧。同时，课堂上我重视德育</tspan><tspan x="368" dy="17">的渗透工作，让学生在学习生物知识的同时，</tspan><tspan x="368" dy="17">陶冶他们爱自然、爱科学、爱祖国、爱劳动的</tspan><tspan x="368" dy="17">思想情操，树立关心生态环境等的思想，促进</tspan><tspan x="368" dy="17">学生全面发展和个性培养。</tspan></text>
</g>
<g id="p2-5">
<rect class="bx" x="361" y="1737.5" width="274" height="301" rx="7"/>
<text class="t"><tspan x="368" y="1752">通过近五年的努力，取得了相应的荣誉，先后</tspan><tspan x="368" dy="17">被评为校级和镇级优秀教师。在20＿年被评</tspan><tspan x="368" dy="17">为县级"教学新秀"，.20＿年被评为咸阳市中</tspan><tspan x="368" dy="17">学生物学科"教坛新秀"。我根据生物学科的特</tspan><tspan x="368" dy="17">点，迎合学生好奇心强的特性，大胆地进行课</tspan><tspan x="368" dy="17">堂改革。把课堂与生活拉近，以形式多样的探</tspan><tspan x="368" dy="17">究活动为主，让生物课的范围扩大到生活的方</tspan><tspan x="368" dy="17">方面面。教学上基本创建了一个师生同乐，以</tspan><tspan x="368" dy="17">生为本的课堂氛围，学生们都喜欢我的课，所</tspan><tspan x="368" dy="17">教班级的生物统考成绩均能保持前列。同时，</tspan><tspan x="368" dy="17">教学过程中，我善于总结经验，撰写学术论文</tspan><tspan x="368" dy="17">，和同行进行交流，提高自己的专业知识，2</tspan><tspan x="368" dy="17">0＿年撰写的论文《分层教学与分类指导方法</tspan><tspan x="368" dy="17">思考》获县教研室优秀教育论文三等奖，同时</tspan><tspan x="368" dy="17">我积极地担任学校的生物公开课任务，积极参</tspan><tspan x="368" dy="17">与各种教学培训和交流，不断提升自己的教学</tspan><tspan x="368" dy="17">能力。</tspan></text>
</g>
<g id="p2-6">
<rect class="bx" x="361" y="2065.5" width="274" height="63" rx="7"/>
<text class="t"><tspan x="368" y="2080">总之，成绩属于过去，我以后一定会更加努力</tspan><tspan x="368" dy="17">，坚持向教科研要质量，坚持向课堂教学要质</tspan><tspan x="368" dy="17">量!努力提高自己的教育教学水平!</tspan></text>
</g>

<!-- Part 4 -->
<g id="p4-1">
<rect class="bx" x="419" y="2174" width="216" height="30" rx="7"/>
<text class="t" x="426" y="2189">1、认真学习教材内容和教学大纲。</text>
</g>
<g id="p4-1a">
<rect class="bx" x="114" y="2156.5" width="274" height="63" rx="7"/>
<text class="t"><tspan x="121" y="2171">根据教材和大纲的要求，确立本学期的教学目</tspan><tspan x="121" dy="17">的要求，认真制定教学计划和教学制度，总结</tspan><tspan x="121" dy="17">上学期的教学情况，明确本学期的教学目标。</tspan></text>
</g>
<g id="p4-2">
<rect class="bx" x="536" y="2290" width="99" height="30" rx="7"/>
<text class="t" x="543" y="2305">2、认真备课。</text>
</g>
<g id="p4-2a">
<rect class="bx" x="232" y="2248.5" width="274" height="114" rx="7"/>
<text class="t"><tspan x="239" y="2263">不但备学生而且备教材备教法，根据教材内容</tspan><tspan x="239" dy="17">及学生的实际，设计课的类型，拟定教学方法</tspan><tspan x="239" dy="17">，并对教学过程的程序及时间安排都作了详细</tspan><tspan x="239" dy="17">的记录，认真写好教案。每一课都做到"有备</tspan><tspan x="239" dy="17">而来"，每堂课都在课前做好充分的准备，课</tspan><tspan x="239" dy="17">后及时作出总结，写好课堂记录。</tspan></text>
</g>
<g id="p4-3">
<rect class="bx" x="419" y="2458" width="216" height="30" rx="7"/>
<text class="t" x="426" y="2473">3、增强上课技能，提高教学质量。</text>
</g>
<g id="p4-3a">
<rect class="bx" x="114" y="2390.5" width="274" height="165" rx="7"/>
<text class="t"><tspan x="121" y="2405">使讲解清晰化，条理化，准确化，情感化，生</tspan><tspan x="121" dy="17">动化，做到线索清晰，层次分明，言简意赅，</tspan><tspan x="121" dy="17">深入浅出。我在课堂上特别注意调动学生的积</tspan><tspan x="121" dy="17">极性，加强师生交流，充分体现学生的主作用</tspan><tspan x="121" dy="17">，让学生学得容易，学得轻松，学得愉快；注</tspan><tspan x="121" dy="17">意精讲精练，在课堂上老师讲得尽量少，学生</tspan><tspan x="121" dy="17">动口动手动脑尽量多；同时在每一堂课上都充</tspan><tspan x="121" dy="17">分考虑每一个层次的学生学习需求和学习能力</tspan><tspan x="121" dy="17">，让各个层次的学生都得到提高。</tspan></text>
</g>
<g id="p4-4">
<rect class="bx" x="361" y="2617" width="274" height="46" rx="7"/>
<text class="t"><tspan x="368" y="2631.5">4、认真参与教研组的集体备课和听评课活动</tspan><tspan x="368" dy="17">。</tspan></text>
</g>
<g id="p4-4a">
<rect class="bx" x="56" y="2583" width="275" height="114" rx="7"/>
<text class="t"><tspan x="63" y="2597.5">虚心请教其他老师。在教学上，有疑必问。在</tspan><tspan x="63" dy="17">各个章节的学习上都积极征求其他老师的意见</tspan><tspan x="63" dy="17">，学习他们的方法，同时，多听老师的课，做</tspan><tspan x="63" dy="17">到边听边讲，学习别人的优点，克服自己的不</tspan><tspan x="63" dy="17">足，并常常邀请其他老师来听课，征求他们的</tspan><tspan x="63" dy="17">意见，改进工作。</tspan></text>
</g>
<g id="p4-5">
<rect class="bx" x="509" y="2809" width="126" height="30" rx="7"/>
<text class="t" x="516" y="2824">5、认真批改作业：</text>
</g>
<g id="p4-5a">
<rect class="bx" x="206" y="2725" width="273" height="97" rx="7"/>
<text class="t"><tspan x="213" y="2739.5">布置作业做到有针对性，有层次性。为了做到</tspan><tspan x="213" dy="17">这点，我常常到各大书店去搜集资料，对各种</tspan><tspan x="213" dy="17">辅助资料进行筛选，力求每一次练习都起到最</tspan><tspan x="213" dy="17">好的效果。同时对学生的作业批改及时、认真</tspan><tspan x="213" dy="17">，力求使作业成为我与学生沟通的桥梁。</tspan></text>
</g>
<g id="p4-5b">
<rect class="bx" x="206" y="2851" width="273" height="46" rx="7"/>
<text class="t"><tspan x="213" y="2865.5">在今后的教学活动中，我要在以下两个方面多</tspan><tspan x="213" dy="17">努力：</tspan></text>
</g>
<g id="p4-6">
<rect class="bx" x="497" y="2975" width="138" height="30" rx="7"/>
<text class="t" x="504" y="2990">1、强化知识点的落实</text>
</g>
<g id="p4-6a">
<rect class="bx" x="193" y="2925" width="274" height="131" rx="7"/>
<text class="t"><tspan x="200" y="2939.5">知识是能力的载体，没有知识的积累就必定没</tspan><tspan x="200" dy="17">有能力的培养提高。八年级生物教学的重点是</tspan><tspan x="200" dy="17">让学生掌握教材中各个具体的知识点。对知识</tspan><tspan x="200" dy="17">点的要求不能是简单机械的识忆，更重要的.</tspan><tspan x="200" dy="17">是在讲授知识点的过程中要讲清知识点的本质</tspan><tspan x="200" dy="17">含义及如何运用知识点去解决问题。只有这样</tspan><tspan x="200" dy="17">，学生才能掌握生物学的基础知识。</tspan></text>
</g>
<g id="p4-7">
<rect class="bx" x="484" y="3134" width="151" height="30" rx="7"/>
<text class="t" x="491" y="3149">2、注重学生能力的培养</text>
</g>
<g id="p4-7a">
<rect class="bx" x="180" y="3083.5" width="274" height="131" rx="7"/>
<text class="t"><tspan x="187" y="3098">通过今年的考试我发现，生物试题的特点是解</tspan><tspan x="187" dy="17">题必须分析清楚试题的本质，才能解决问题。</tspan><tspan x="187" dy="17">在今后的教学工作中，应加强对学生理解能力</tspan><tspan x="187" dy="17">、获取信息的能力、综合运用能力、识图能力</tspan><tspan x="187" dy="17">等的培养。使学生能通过现象看本质，能将各</tspan><tspan x="187" dy="17">章节具体的知识内容联系起来，解决综合性的</tspan><tspan x="187" dy="17">问题。</tspan></text>
</g>

<g id="watermarks">
<text class="wm" transform="translate(648,513) rotate(-30)">树图 shutu.cn</text>
<text class="wm" transform="translate(1918,513) rotate(-30)">树图 shutu.cn</text>
<text class="wm" transform="translate(648,1520) rotate(-30)">树图 shutu.cn</text>
<text class="wm" transform="translate(1918,1520) rotate(-30)">树图 shutu.cn</text>
<text class="wm" transform="translate(648,2510) rotate(-30)">树图 shutu.cn</text>
<text class="wm" transform="translate(1918,2510) rotate(-30)">树图 shutu.cn</text>
<text class="wm" transform="translate(648,3518) rotate(-30)">树图 shutu.cn</text>
<text class="wm" transform="translate(1918,3518) rotate(-30)">树图 shutu.cn</text>
</g>
</svg>
